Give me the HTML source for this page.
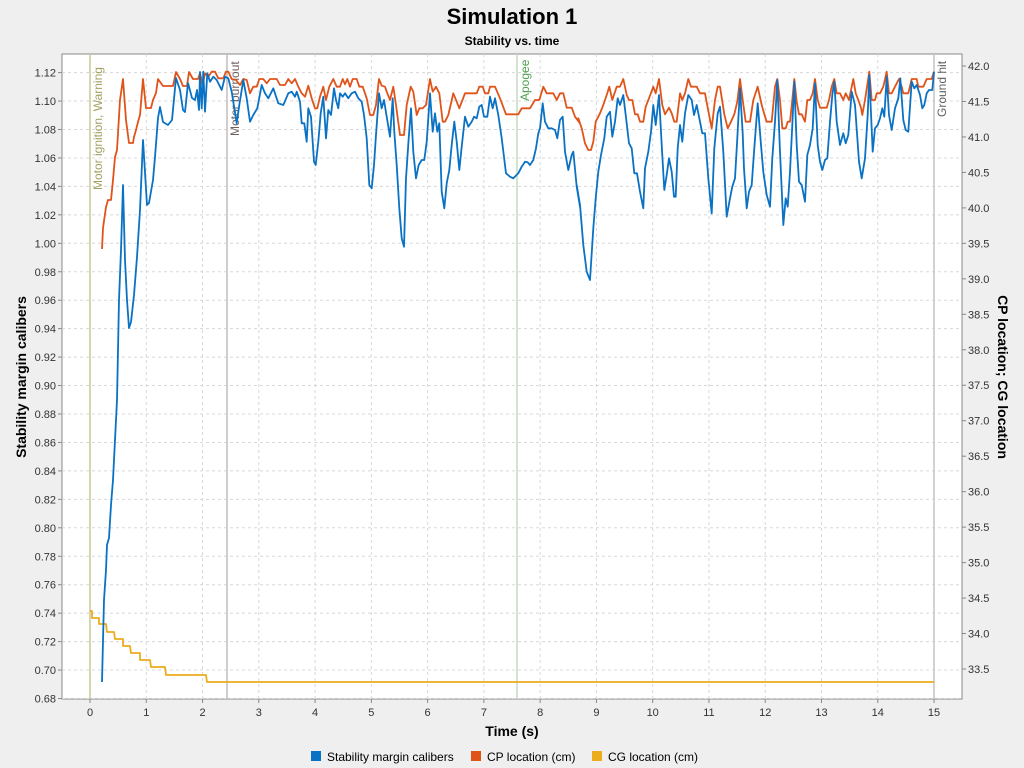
<!DOCTYPE html>
<html><head><meta charset="utf-8"><style>
body{margin:0;background:#efefef;font-family:"Liberation Sans",sans-serif}
svg{display:block}
</style></head><body>
<svg id="s" width="1024" height="768" xmlns="http://www.w3.org/2000/svg" font-family="Liberation Sans, sans-serif">
<rect x="0" y="0" width="1024" height="768" fill="#efefef"/>
<text x="512" y="24" font-size="22" font-weight="bold" text-anchor="middle">Simulation 1</text>
<text x="512" y="45" font-size="12" font-weight="bold" text-anchor="middle">Stability vs. time</text>
<rect x="62" y="54" width="900" height="645" fill="#fff" stroke="#888" stroke-width="1"/>
<g id="grid" stroke="#d8d8d8" stroke-dasharray="3,3" stroke-width="1"></g>
<g id="ticks" font-size="11" fill="#333"></g>
<line x1="90" y1="54" x2="90" y2="699" stroke="#c8c89a" stroke-width="1.5"/>
<line x1="227" y1="54" x2="227" y2="699" stroke="#c4bcbc" stroke-width="1.5"/>
<line x1="517" y1="54" x2="517" y2="699" stroke="#c4dcc0" stroke-width="1.5"/>
<line x1="934" y1="54" x2="934" y2="699" stroke="#c4c4c4" stroke-width="1.5"/>
<text transform="translate(102,190) rotate(-90)" font-size="12" fill="#a0a060">Motor ignition, Warning</text>
<text transform="translate(239,136) rotate(-90)" font-size="12" fill="#706060">Motor burnout</text>
<text transform="translate(529,101) rotate(-90)" font-size="12" fill="#50a050">Apogee</text>
<text transform="translate(946,117) rotate(-90)" font-size="12" fill="#606060">Ground hit</text>
<g id="series" fill="none" stroke-width="1.8" stroke-linejoin="round"></g>
<text x="512" y="736" font-size="14" font-weight="bold" text-anchor="middle">Time (s)</text>
<text transform="translate(26,377) rotate(-90)" font-size="14" font-weight="bold" text-anchor="middle">Stability margin calibers</text>
<text transform="translate(998,377) rotate(90)" font-size="14" font-weight="bold" text-anchor="middle">CP location; CG location</text>
<rect x="311" y="751" width="10" height="10" fill="#0a72c4"/>
<text x="327" y="761" font-size="12">Stability margin calibers</text>
<rect x="471" y="751" width="10" height="10" fill="#e0541a"/>
<text x="487" y="761" font-size="12">CP location (cm)</text>
<rect x="592" y="751" width="10" height="10" fill="#ecac1c"/>
<text x="608" y="761" font-size="12">CG location (cm)</text>
</svg>
<script>
var NS="http://www.w3.org/2000/svg";
function el(p,t,a,txt){var e=document.createElementNS(NS,t);for(var k in a)e.setAttribute(k,a[k]);if(txt!=null)e.textContent=txt;document.getElementById(p).appendChild(e);}
for(var i=0;i<=22;i++){var y=698.5-i*28.45;var v=(0.68+i*0.02).toFixed(2);
 el("grid","line",{x1:62,x2:962,y1:y,y2:y});
 el("ticks","line",{x1:58,x2:62,y1:y,y2:y,stroke:"#888"});
 el("ticks","text",{x:56,y:y+4,"text-anchor":"end"},v);}
for(var t=0;t<=15;t++){var x=90+t*56.27;
 el("grid","line",{x1:x,x2:x,y1:54,y2:699});
 el("ticks","line",{x1:x,x2:x,y1:699,y2:703,stroke:"#888"});
 el("ticks","text",{x:x,y:716,"text-anchor":"middle"},""+t);}
for(var j=0;j<=18;j++){var v2=33.0+j*0.5;var y2=669+(33.5-v2)*70.94;
 if(y2>699)continue;
 el("ticks","line",{x1:962,x2:966,y1:y2,y2:y2,stroke:"#888"});
 el("ticks","text",{x:968,y:y2+4},v2.toFixed(1));}
function pts(arr,ox,oy,sc){var s=[];for(var i=0;i<arr.length;i+=2){s.push((ox+arr[i]/sc).toFixed(1)+","+(oy+arr[i+1]/sc).toFixed(1));}return s.join(" ");}
var oA=[102,249,103,228,106,207,108,200,111,200,113,180,115,157,117,150,120,100,123,79,126,120,129,143,133,143,134,137,136,130,138,122,140,115,143,79,146,108,151,108,153,100,156,93,158,79,163,86,173,86,176,72,180,79,183,86,187,86,189,72,193,79,198,79,200,73];
var oB=[8,90,15,55,25,65,35,50,45,50,55,70,70,70,78,50,85,50,95,72,108,75,120,90,130,72,140,75,150,115,160,95,170,95,178,72,190,72,200,85,210,72,230,72,240,90,255,90,265,72,275,85,285,72,295,95,305,115,315,125,325,92,335,130,345,160,352,160,360,125,370,95,378,135,388,95,400,72,410,95,420,95,428,72,435,88,442,72,450,95,458,72,470,72,478,95,488,95,500,130,510,180,520,180,528,150,537,72,545,92,555,95,560,110,570,135,580,95,588,150,600,240,612,240,620,150,632,95,640,110,650,180,658,160,668,160,678,150,690,72,698,110,708,95,718,115,728,200,735,200,745,180,760,115,770,140,778,160,795,115,830,115,838,95,848,95,855,115,865,115,870,95,885,95,900,130,918,178,955,178,965,160,990,160,1005,135,1018,135,1030,95,1040,115,1060,115,1070,135,1080,115,1090,115,1100,158,1115,158,1125,185,1140,205];
var oC=[10,190,20,220,30,265,40,285,48,285,55,260,62,200,75,175,85,150,95,120,103,95,112,135,125,95,135,95,145,72,155,120,162,135,172,135,180,178,188,178,195,200,205,200,212,155,222,130,235,95,242,115,252,72,262,150,270,178,282,158,290,175,298,200,305,200,315,115,322,135,330,115,340,72,348,95,365,95,375,115,390,115,398,158,410,220,420,135,428,95,435,95,448,178,458,220,468,200,478,178,487,140,495,72,503,135,512,200,525,200,535,135,548,95,560,150,568,178,575,200,590,200,600,95,607,72,615,135,622,220,632,220,638,200,645,200,652,135,658,72,665,140,672,178,680,178,690,200,697,135,705,135,713,115,720,72,728,135,735,158,755,158,762,135,770,95,778,72,785,115,795,115,805,135,812,115,822,135,830,95,835,72,842,115,850,135,858,158,862,180,870,135,883,50,890,135,900,135,905,115,915,115,925,95,935,50,942,115,950,115,960,95,972,72,980,95,985,115,1000,115,1010,72,1025,72,1030,95,1045,95,1055,72,1070,72,1077,50];
var orange=pts(oA,0,0,1)+" "+pts(oB,200,55,3)+" "+pts(oC,575,55,3);
var bA=[102,682,104,600,106,570,107,545,109,538,111,505,113,480,115,440,117,400,119,300,121,250,123,185,125,260,127,300,129,328,131,322,134,295,137,257,140,210,143,140,147,205,149,203,153,180,155,157,158,118,160,107,163,122,168,125,172,120,176,78,180,90,183,110,185,112,188,83,192,98,195,100,197,90,199,110,200,72];
var bB=[5,160,10,50,15,170,22,55,30,80,40,65,50,75,65,105,75,65,85,70,95,110,110,205,118,150,130,75,140,130,150,200,160,180,172,160,185,90,195,115,205,130,220,100,235,145,250,150,265,115,275,110,285,125,290,110,300,140,305,205,313,205,320,260,325,160,333,185,342,320,347,330,355,260,362,175,370,125,378,250,385,165,393,180,402,100,408,135,415,160,420,115,428,125,435,115,445,130,455,115,465,110,475,130,485,140,492,180,500,250,508,390,515,400,522,330,528,240,537,115,545,160,552,135,560,185,570,245,578,130,583,230,590,330,598,460,605,550,612,575,618,370,626,250,633,160,640,290,648,370,656,330,665,315,673,315,680,260,690,115,698,230,705,175,712,230,718,205,725,410,733,460,740,385,748,345,755,270,763,200,770,260,778,345,785,275,795,185,805,215,815,200,822,185,830,190,838,155,845,150,852,185,862,185,870,125,878,160,885,130,895,180,905,250,918,355,930,365,940,370,955,355,965,335,975,320,983,322,990,330,1000,315,1008,280,1015,235,1020,220,1028,145,1035,200,1045,220,1055,220,1065,225,1072,250,1080,195,1088,185,1095,290,1105,345,1115,300,1120,290,1130,395,1140,455];
var bC=[5,390,15,450,25,570,35,650,45,675,55,520,62,430,70,350,78,300,88,250,95,185,105,170,112,245,120,200,128,130,135,150,145,120,152,180,162,265,170,280,178,355,186,355,195,410,205,460,210,340,220,290,228,230,235,150,242,210,252,120,260,270,268,405,275,360,282,310,290,350,297,425,302,425,308,280,315,210,322,260,330,175,340,120,350,135,357,180,365,150,375,200,382,235,390,235,400,370,410,475,418,280,428,175,435,155,445,290,455,485,465,430,472,395,480,370,487,250,495,100,503,235,507,340,515,460,522,410,530,390,538,280,548,145,558,270,565,350,575,420,585,455,592,310,600,200,607,75,614,270,625,510,632,430,638,455,645,350,652,210,658,80,665,270,672,380,680,390,690,440,697,300,705,270,713,220,720,85,728,270,735,320,742,345,750,315,757,310,765,200,772,120,778,80,785,200,795,270,805,235,812,265,820,240,830,110,840,150,852,320,860,370,870,310,878,180,883,60,893,290,900,220,908,210,915,190,922,160,928,185,935,65,942,180,950,225,960,160,970,130,976,70,985,195,992,225,1000,230,1010,80,1018,100,1025,90,1035,120,1042,160,1048,150,1055,115,1062,105,1072,105,1077,50];
var blue=pts(bA,0,0,1)+" "+pts(bB,200,55,3)+" "+pts(bC,575,55,3);
var cg="90,611 92,611 92,618 99,618 99,624 106,624 107,632 114,632 115,639 123,639 123,646 130,646 131,653 140,653 140,660 150,660 151,667 165,667 166,675 206,675 207,682 934,682";
el("series","polyline",{points:cg,stroke:"#ecac1c"});
el("series","polyline",{points:orange,stroke:"#e0541a"});
el("series","polyline",{points:blue,stroke:"#0a72c4"});
</script>
</body></html>
